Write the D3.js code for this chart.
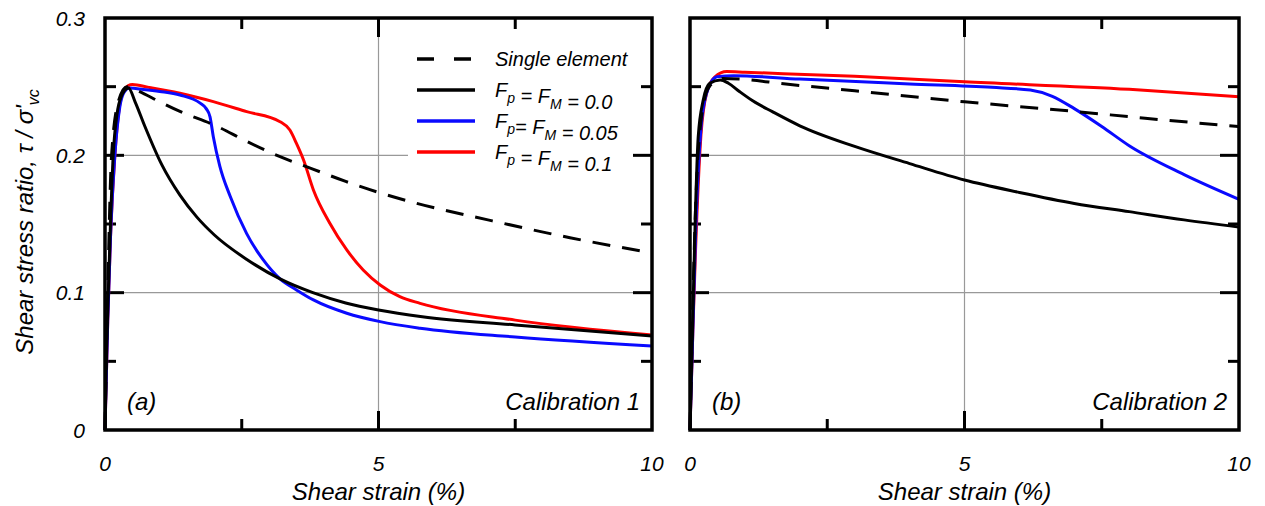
<!DOCTYPE html>
<html>
<head>
<meta charset="utf-8">
<script src="https://cdn.jsdelivr.net/npm/d3@7"></script>
<style>
  body { margin: 0; background: #fff; }
  svg text { font-family: "Liberation Sans", Arial, sans-serif; font-style: italic; fill: #000; }
</style>
</head>
<body>
<svg id="chart" width="1265" height="506"></svg>
<script>
// ---- data (strain %, stress ratio) ----
var singleA = [[0,0],[0.05,0.1],[0.12,0.2],[0.25,0.24],[0.4,0.25],[0.6,0.247],[1.0,0.239],[1.37,0.232],[2.0,0.222],[2.6,0.21],[3.2,0.199],[3.8,0.19],[4.4,0.181],[5.0,0.173],[5.7,0.165],[7.0,0.153],[8.5,0.14],[10,0.129]];
var f00A = [[0,0],[0.03,0.06],[0.06,0.1],[0.1,0.15],[0.15,0.2],[0.22,0.23],[0.3,0.243],[0.43,0.249],[0.55,0.239],[0.73,0.221],[1.04,0.193],[1.37,0.171],[1.68,0.155],[2.0,0.142],[2.6,0.124],[3.2,0.11],[3.8,0.1],[4.4,0.0925],[5.0,0.0874],[5.8,0.0825],[7.5,0.0765],[10,0.0684]];
var f05A = [[0,0],[0.05,0.08],[0.1,0.14],[0.18,0.2],[0.27,0.235],[0.35,0.246],[0.45,0.249],[0.7,0.248],[1.0,0.2465],[1.37,0.2439],[1.74,0.238],[1.85,0.234],[1.92,0.228],[1.98,0.2136],[2.1,0.192],[2.29,0.17],[2.59,0.143],[2.89,0.124],[3.2,0.11],[3.5,0.102],[3.81,0.0947],[4.42,0.085],[5.03,0.0789],[5.76,0.0741],[7.5,0.0677],[10,0.0612]];
var f10A = [[0,0],[0.05,0.08],[0.1,0.14],[0.18,0.2],[0.27,0.237],[0.35,0.248],[0.5,0.2515],[0.8,0.2495],[1.37,0.2452],[1.98,0.2391],[2.59,0.2318],[3.2,0.2245],[3.38,0.2184],[3.5,0.2087],[3.63,0.1966],[3.81,0.1748],[4.11,0.1505],[4.42,0.1311],[4.72,0.1165],[5.03,0.1056],[5.39,0.0971],[5.76,0.0922],[7.5,0.08],[10,0.0692]];

var singleB = [[0,0],[0.05,0.09],[0.1,0.16],[0.2,0.225],[0.35,0.25],[0.6,0.256],[1.09,0.2549],[1.64,0.2524],[3,0.247],[5,0.239],[7,0.232],[8.29,0.227],[10,0.2209]];
var f00B = [[0,0],[0.05,0.08],[0.1,0.16],[0.15,0.2136],[0.24,0.24],[0.36,0.2524],[0.55,0.2549],[0.7,0.2525],[0.9,0.2465],[1.15,0.2395],[1.5,0.2318],[2.0,0.2215],[3,0.2065],[4,0.194],[5,0.182],[6,0.173],[7,0.165],[8,0.159],[9,0.153],[10,0.1478]];
var f05B = [[0,0],[0.05,0.07],[0.1,0.14],[0.2,0.22],[0.3,0.245],[0.49,0.2573],[0.8,0.258],[2,0.2555],[4,0.252],[5.5,0.2495],[6.2,0.2475],[6.6,0.243],[7,0.234],[7.5,0.221],[8,0.207],[9,0.186],[10,0.168]];
var f10B = [[0,0],[0.05,0.07],[0.1,0.13],[0.2,0.215],[0.3,0.245],[0.45,0.257],[0.67,0.261],[1,0.2605],[3,0.2575],[5,0.2535],[8,0.2481],[10,0.2427]];

var xTickLabels = ["0", "5", "10"];
var yTickLabels = ["0", "0.1", "0.2", "0.3"];
var legendLabels = ["Single element", "F_p = F_M = 0.0", "F_p= F_M = 0.05", "F_p = F_M = 0.1"];
var seriesColors = ["#000", "#000", "#0a0aff", "#ff0000"];

var svg = d3.select("#chart");
var top0 = 18, bot0 = 430;

function panel(x0, x1, series, tag, calib, showY, legend) {
    var x = d3.scaleLinear().domain([0, 10]).range([x0, x1]);
    var y = d3.scaleLinear().domain([0, 0.3]).range([bot0, top0]);
    var g = svg.append("g");

    // grid
    g.selectAll(".gy").data([0.1, 0.2]).enter().append("line")
        .attr("x1", x0).attr("x2", x1)
        .attr("y1", function(d) { return y(d); }).attr("y2", function(d) { return y(d); })
        .attr("stroke", "#999").attr("stroke-width", 1.2);
    g.append("line").attr("x1", x(5)).attr("x2", x(5)).attr("y1", top0).attr("y2", bot0)
        .attr("stroke", "#999").attr("stroke-width", 1.2);

    // legend background (covers grid)
    if (legend) {
        g.append("rect").attr("x", 408).attr("y", 40).attr("width", 226).attr("height", 126).attr("fill", "#fff");
    }

    // ticks
    var ticks = g.append("g").attr("stroke", "#000").attr("stroke-width", 3);
    [0.05, 0.1, 0.15, 0.2, 0.25].forEach(function(v) {
        var len = (Math.abs(v * 10 - Math.round(v * 10)) < 1e-6) ? 19 : 11;
        ticks.append("line").attr("x1", x0).attr("x2", x0 + len).attr("y1", y(v)).attr("y2", y(v));
        ticks.append("line").attr("x1", x1).attr("x2", x1 - len).attr("y1", y(v)).attr("y2", y(v));
    });
    [2.5, 5, 7.5].forEach(function(v) {
        var len = v === 5 ? 19 : 11;
        ticks.append("line").attr("x1", x(v)).attr("x2", x(v)).attr("y1", top0).attr("y2", top0 + len);
        ticks.append("line").attr("x1", x(v)).attr("x2", x(v)).attr("y1", bot0).attr("y2", bot0 - len);
    });

    // curves
    var line = d3.line().x(function(d) { return x(d[0]); }).y(function(d) { return y(d[1]); })
        .curve(d3.curveMonotoneX);
    var order = [3, 2, 0, 1];
    order.forEach(function(i) {
        g.append("path").datum(series[i])
            .attr("d", line)
            .attr("fill", "none")
            .attr("stroke", seriesColors[i])
            .attr("stroke-width", 3)
            .attr("stroke-linejoin", "round")
            .attr("stroke-dasharray", i === 0 ? "18,12" : null);
    });

    // frame
    g.append("rect").attr("x", x0).attr("y", top0).attr("width", x1 - x0).attr("height", bot0 - top0)
        .attr("fill", "none").attr("stroke", "#000").attr("stroke-width", 3.5);

    // tick labels
    g.selectAll(".xl").data(xTickLabels).enter().append("text")
        .attr("x", function(d) { return x(+d); }).attr("y", 471)
        .attr("text-anchor", "middle").attr("font-size", 21)
        .text(function(d) { return d; });
    if (showY) {
        g.selectAll(".yl").data(yTickLabels).enter().append("text")
            .attr("x", 85).attr("y", function(d) { return y(+d) + 7.5; })
            .attr("text-anchor", "end").attr("font-size", 21)
            .text(function(d) { return d; });
    }
    g.append("text").attr("x", (x0 + x1) / 2).attr("y", 500).attr("text-anchor", "middle")
        .attr("font-size", 24).text("Shear strain (%)");

    g.append("text").attr("x", x0 + 22).attr("y", 410).attr("font-size", 24).text(tag);
    g.append("text").attr("x", x1 - 12).attr("y", 410).attr("text-anchor", "end").attr("font-size", 24).text(calib);

    if (legend) {
        var lg = g.append("g");
        legendLabels.forEach(function(lab, i) {
            var yy = 59 + i * 31;
            lg.append("line").attr("x1", 417).attr("x2", 475).attr("y1", yy).attr("y2", yy)
                .attr("stroke", seriesColors[i]).attr("stroke-width", 3.5)
                .attr("stroke-dasharray", i === 0 ? "17,20" : null);
            var t = lg.append("text").attr("x", 495).attr("y", yy + 7).attr("font-size", 20);
            var parts = lab.split(/(_[pM])/);
            parts.forEach(function(p) {
                if (p.charAt(0) === "_") {
                    t.append("tspan").attr("font-size", 14).attr("dy", 6).text(p.slice(1));
                    t.append("tspan").attr("dy", -6).text("");
                } else if (p.length) {
                    t.append("tspan").text(p);
                }
            });
        });
    }
}

panel(105, 652, [singleA, f00A, f05A, f10A], "(a)", "Calibration 1", true, true);
panel(690, 1239, [singleB, f00B, f05B, f10B], "(b)", "Calibration 2", false, false);

// y axis title
var yt = svg.append("text").attr("transform", "translate(33,222) rotate(-90)")
    .attr("text-anchor", "middle").attr("font-size", 24);
yt.append("tspan").text("Shear stress ratio, τ / σ'");
yt.append("tspan").attr("font-size", 16).attr("dy", 6).text("vc");
</script>
</body>
</html>
